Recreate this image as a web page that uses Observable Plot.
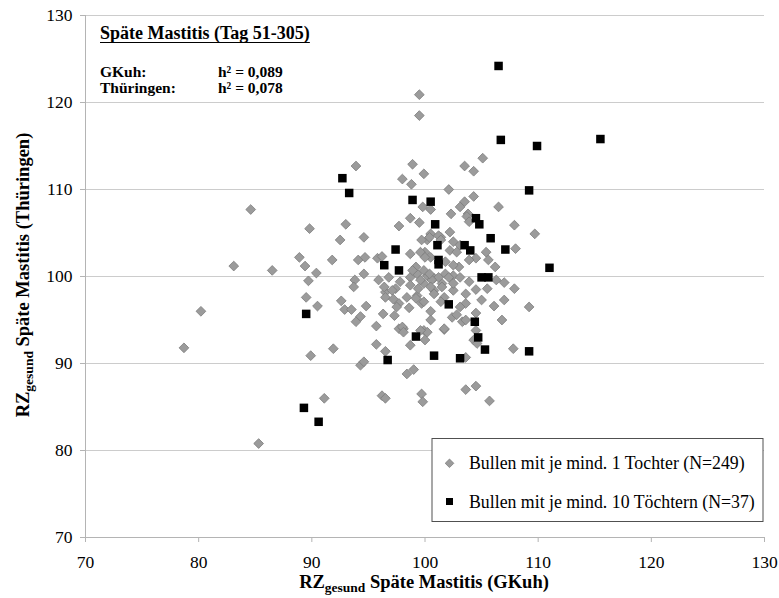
<!DOCTYPE html>
<html><head><meta charset="utf-8">
<script src="https://cdn.jsdelivr.net/npm/d3@7"></script>
<script src="https://cdn.jsdelivr.net/npm/@observablehq/plot@0.6"></script>
<style>
body{margin:0;background:#fff;}
#chart{width:779px;height:598px;}
#chart svg text{font-family:'Liberation Serif','Times New Roman',serif !important;}
</style></head><body><div id="chart"></div>
<script>
const xTicks = [70, 80, 90, 100, 110, 120, 130];
const yTicks = [70, 80, 90, 100, 110, 120, 130];
const seriesNames = ["Bullen mit je mind. 1 Tochter (N=249)", "Bullen mit je mind. 10 Töchtern (N=37)"];
const xTitle = ["RZ", "gesund", " Späte Mastitis (GKuh)"];
const yTitle = ["RZ", "gesund", " Späte Mastitis (Thüringen)"];
const boxTitle = "Späte Mastitis (Tag 51-305)";
const boxRows = [["GKuh:", "h² = 0,089"], ["Thüringen:", "h² = 0,078"]];

// Bullen mit je mind. 1 Tochter
const grayX = [84.6,83.1,86.5,80.2,78.7,85.3,93.9,89.8,93.0,92.5,94.6,97.7,88.9,89.4,90.4,89.7,91.8,94.1,94.7,95.8,96.2,94.6,95.9,96.8,93.8,93.7,96.5,89.5,92.6,90.5,92.9,93.5,94.8,94.3,93.9,96.3,97.3,95.7,97.7,89.9,91.9,95.7,96.5,94.3,94.6,91.1,96.2,96.5,99.5,99.5,105.1,103.5,104.3,98.9,99.9,98.0,98.8,102.1,104.3,99.8,100.5,106.5,103.5,103.1,102.3,103.8,98.7,99.5,107.9,102.2,101.4,105.4,108.0,103.7,103.9,109.7,107.9,107.8,98.4,99.0,99.7,99.8,103.6,104.5,105.7,106.8,107.0,106.1,105.0,104.5,101.7,100.5,100.5,99.9,100.0,97.7,99.7,105.5,106.3,107.0,104.5,109.2,103.6,98.7,98.1,103.6,103.1,102.4,103.3,98.0,98.7,99.3,100.2,100.8,101.8,102.5,103.1,103.9,99.9,100.8,98.7,97.8,97.4,98.4,99.3,99.9,101.7,102.5,101.5,102.5,103.1,102.2,102.8,104.5,103.9,105.6,106.2,103.0,102.5,101.8,100.5,100.0,102.1,101.2,100.6,102.5,100.5,101.5,100.8,103.6,100.5,101.2,100.2,101.4,99.2,99.6,99.9,100.4,98.9,99.4,98.7,99.6,100.0,99.7,100.4,96.4,97.1,96.5,97.2,97.5,98.6,98.1,99.2,100.2,99.6,101.7,101.4,102.8,103.6,104.5,104.3,104.6];
const grayY = [107.7,101.2,100.7,96.0,91.8,80.8,112.7,105.5,106.0,104.2,104.5,105.8,102.2,101.2,100.4,99.5,101.9,101.9,102.2,102.1,102.3,100.3,99.6,99.9,99.6,98.8,98.2,97.6,97.2,96.6,96.2,96.2,96.6,95.4,94.8,95.7,95.5,94.3,94.0,90.9,91.7,92.2,91.4,89.8,90.2,86.0,86.3,86.0,120.9,118.5,113.6,112.7,112.1,112.9,111.8,111.2,110.6,110.0,109.2,108.0,107.7,108.0,108.6,108.0,107.2,107.2,106.7,106.2,105.9,105.1,104.5,102.8,103.2,106.9,106.3,104.9,98.6,91.7,88.8,89.3,86.5,85.6,87.0,87.4,85.7,95.0,97.3,96.6,97.3,95.8,93.9,96.0,95.0,93.8,92.7,96.9,96.9,98.6,99.6,99.3,98.5,96.5,90.7,92.1,94.0,96.9,96.5,95.3,94.8,94.2,99.9,100.3,100.1,99.8,100.3,100.1,99.9,99.4,99.2,98.4,99.0,99.4,98.6,97.6,97.8,97.1,97.6,98.4,99.2,104.0,103.6,103.0,102.8,102.1,101.9,101.9,101.1,101.1,101.3,101.7,102.2,102.8,99.9,99.9,99.6,99.2,98.8,98.8,98.0,98.0,104.9,104.7,104.2,104.2,101.1,99.6,100.7,100.3,100.7,98.6,102.6,102.8,102.2,104.2,104.5,98.8,98.4,97.6,97.4,96.5,96.4,93.6,97.5,93.6,93.8,94.0,97.1,95.6,95.0,93.8,92.7,92.3];
// Bullen mit je mind. 10 Töchtern
const blackX = [106.5,106.7,109.9,115.5,109.2,92.7,93.3,98.9,100.5,104.5,104.8,100.9,105.8,101.1,103.5,104.0,107.1,97.4,101.2,101.2,96.4,97.7,105.0,105.6,111.0,102.1,104.4,104.7,99.2,105.3,109.2,96.7,100.8,103.1,89.5,89.3,90.6];
const blackY = [124.2,115.7,115.0,115.8,109.9,111.3,109.6,108.8,108.6,106.7,106.0,106.0,104.4,103.6,103.6,103.0,103.1,103.1,101.9,101.4,101.3,100.7,99.9,99.9,101.0,96.8,94.8,93.0,93.1,91.6,91.4,90.4,90.9,90.6,95.7,84.9,83.3];

const gray = grayX.map((x, i) => ({x, y: grayY[i]}));
const black = blackX.map((x, i) => ({x, y: blackY[i]}));

const FONT = "'Liberation Serif', 'Times New Roman', serif";
const axisColor = "#b4b4b4";

const plot = Plot.plot({
  width: 779, height: 598,
  marginLeft: 85, marginRight: 15, marginTop: 15, marginBottom: 61,
  style: {fontFamily: FONT, fontSize: "17.5px", color: "black", background: "white"},
  x: {domain: [70, 130]},
  y: {domain: [70, 130]},
  marks: [
    Plot.gridY(yTicks.filter(d => d > 70), {stroke: "#cccccc", strokeOpacity: 1, strokeWidth: 1}),
    Plot.axisY({ticks: yTicks, tickSize: 5, tickPadding: 8, stroke: axisColor, fill: "black", fontSize: 17.5, label: null}),
    Plot.axisX({ticks: xTicks, tickSize: 5, tickPadding: 13.5, stroke: axisColor, fill: "black", fontSize: 17.5, label: null}),
    Plot.ruleX([70], {stroke: axisColor}),
    Plot.ruleY([70], {stroke: axisColor}),
    Plot.dot(gray, {x: "x", y: "y", symbol: "diamond2", r: 4.4, fill: "#9b9b9b", stroke: "#7c7c7c", strokeWidth: 0.8}),
    Plot.dot(black, {x: "x", y: "y", symbol: "square", r: 4.8, fill: "black", stroke: "none"})
  ]
});
document.getElementById("chart").appendChild(plot);

const svg = d3.select(plot);
// axis titles with subscript
function title(g, parts) {
  g.append("tspan").text(parts[0]);
  g.append("tspan").attr("font-size", "13.5px").attr("dy", "3.5").text(parts[1]);
  g.append("tspan").attr("dy", "-3.5").text(parts[2]);
}
const xt = svg.append("text").attr("x", 424).attr("y", 588)
  .attr("text-anchor", "middle").attr("font-weight", "bold").attr("font-size", 18.5)
  .attr("fill", "black");
title(xt, xTitle);
const yt = svg.append("text").attr("transform", "translate(29,275) rotate(-90)")
  .attr("text-anchor", "middle").attr("font-weight", "bold").attr("font-size", 18.5)
  .attr("fill", "black");
title(yt, yTitle);

// annotation box
const ann = svg.append("g").attr("font-weight", "bold").attr("fill", "black").attr("text-anchor", "start");
const t1 = ann.append("text").attr("x", 100).attr("y", 39).attr("font-size", 18).text(boxTitle);
const bb = t1.node().getBBox();
ann.append("line").attr("x1", 100).attr("x2", 100 + bb.width).attr("y1", 42.5).attr("y2", 42.5)
  .attr("stroke", "black").attr("stroke-width", 1.2);
boxRows.forEach((r, i) => {
  ann.append("text").attr("x", 100).attr("y", 77 + i * 15.5).attr("font-size", 15.5).text(r[0]);
  ann.append("text").attr("x", 218).attr("y", 77 + i * 15.5).attr("font-size", 15.5).text(r[1]);
});

// legend
const lg = svg.append("g").attr("text-anchor", "start");
lg.append("rect").attr("x", 432).attr("y", 438.5).attr("width", 331).attr("height", 83)
  .attr("fill", "white").attr("stroke", "#505050").attr("stroke-width", 1);
lg.append("path").attr("d", "M449.5,459 L453.8,463.3 L449.5,467.6 L445.2,463.3 Z")
  .attr("fill", "#9b9b9b").attr("stroke", "#7c7c7c").attr("stroke-width", 0.8);
lg.append("rect").attr("x", 446).attr("y", 498).attr("width", 7).attr("height", 7).attr("fill", "black");
seriesNames.forEach((s, i) => {
  lg.append("text").attr("x", 469).attr("y", 469 + i * 38.5).attr("font-size", 17.8)
    .attr("fill", "black").text(s);
});
</script></body></html>
